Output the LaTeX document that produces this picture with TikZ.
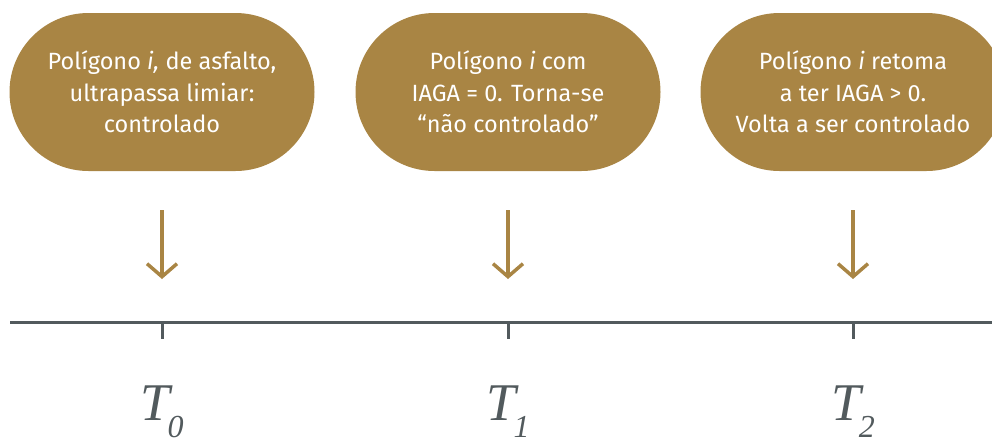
\documentclass[tikz,border=0pt]{standalone}
\usepackage{fontspec}
\setmainfont{Fira Sans}
\newfontfamily\timefont{Liberation Serif}
\usetikzlibrary{arrows.meta, shapes.misc}
\definecolor{gold}{HTML}{A98544}
\definecolor{slate}{HTML}{525A5D}

\begin{document}
\begin{tikzpicture}[x=1pt, y=-1pt,
  phase/.style={rounded rectangle, fill=gold, text=white, minimum width=305pt,
    minimum height=158pt, inner sep=0pt, align=center,
    font=\fontsize{23.5}{31.5}\selectfont},
  down/.style={draw=gold, line width=3.5pt, -{Straight Barb[length=13pt, width=30pt]}},
  axis/.style={draw=slate, line width=3pt}]
\useasboundingbox (0,0) rectangle (992,437);

% phases
\node [phase] (p0) at (162,92) {Polígono \textit{i,} de asfalto,\\ultrapassa limiar:\\controlado};
\node [phase] (p1) at (508,92) {Polígono \textit{i} com\\IAGA = 0. Torna-se\\“não controlado”};
\node [phase] (p2) at (853,92) {Polígono \textit{i} retoma\\a ter IAGA > 0.\\Volta a ser controlado};

% time axis
\coordinate (start) at (10,322);
\coordinate (end) at (992,322);
\draw [axis] (start) -- (end);

\foreach \i/\x in {0/162,1/508,2/853} {
  \coordinate (a\i) at (\x,210);
  \coordinate (b\i) at (\x,279);
  \draw [down] (a\i) -- (b\i);
  \coordinate (k\i) at (\x,322);
  \coordinate (m\i) at (\x,339);
  \draw [axis] (k\i) -- (m\i);
  \node [anchor=base, text=slate, inner sep=0pt] (t\i) at (\x,420)
    {\timefont\itshape\fontsize{53}{53}\selectfont T\kern-2pt\raisebox{-17pt}{\fontsize{32}{32}\selectfont\i}};
}
\end{tikzpicture}
\end{document}
